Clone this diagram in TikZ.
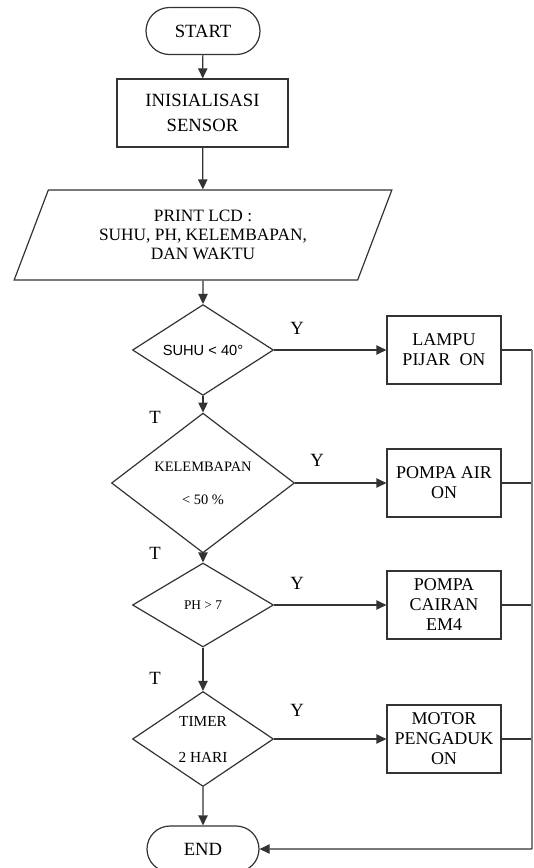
\documentclass[tikz,border=0pt]{standalone}
\usepackage{fontspec}
\setmainfont{Liberation Serif}
\setsansfont{Liberation Sans}
\usetikzlibrary{shapes.geometric,shapes.misc,arrows.meta}
\begin{document}
\begin{tikzpicture}[x=0.75pt,y=-0.75pt,line width=0.9pt,color=black!80,text=black,
  term/.style={rounded rectangle,draw,minimum width=85.5pt,minimum height=35.25pt,inner sep=0pt,font=\fontsize{14}{16}\selectfont},
  proc/.style={rectangle,draw,align=center,inner sep=0pt,minimum width=85.5pt,minimum height=51pt,font=\fontsize{13.5}{15}\selectfont},
  io/.style={trapezium,trapezium left angle=65.5,trapezium right angle=114.5,trapezium stretches=true,draw,minimum width=283.5pt,minimum height=67.5pt,align=center,inner sep=0pt,font=\fontsize{13}{14.5}\selectfont},
  dec/.style={diamond,draw,inner sep=0pt,align=center},
  flow/.style={-{Triangle[length=7.5pt,width=7pt]}},
  lab/.style={inner sep=0pt,font=\fontsize{14}{16}\selectfont}]
\useasboundingbox (0,0) rectangle (534,868);
\clip (0,0) rectangle (534,868);
% nodes
\node[term] (start) at (203,31) {START};
\node[proc,minimum width=128.25pt,font=\fontsize{14}{18.5}\selectfont] (init) at (202.5,113) {INISIALISASI\\SENSOR};
\node[io] (print) at (203,235) {PRINT LCD :\\SUHU, PH, KELEMBAPAN,\\DAN WAKTU};
\node[dec,minimum width=105.75pt,minimum height=63.75pt,font=\sffamily\fontsize{11}{13}\selectfont] (d1) at (203,350) {SUHU < 40°};
\node[dec,minimum width=137.25pt,minimum height=81.75pt,font=\fontsize{10.8}{24.75}\selectfont] (d2) at (203,483) {KELEMBAPAN\\< 50 \%};
\node[dec,minimum width=105.75pt,minimum height=63pt,font=\fontsize{10}{12}\selectfont] (d3) at (203,605) {PH > 7};
\node[dec,minimum width=105.75pt,minimum height=63pt,font=\fontsize{11.5}{27}\selectfont] (d4) at (203,739) {TIMER\\2 HARI};
\node[proc] (b1) at (444,350) {LAMPU\\PIJAR\ \ ON};
\node[proc] (b2) at (444,483) {POMPA AIR\\ON};
\node[proc] (b3) at (444,605) {POMPA\\CAIRAN\\EM4};
\node[proc] (b4) at (444,739) {MOTOR\\PENGADUK\\ON};
\node[term,minimum width=84pt,minimum height=34.5pt] (end) at (203,849) {END};
% labels
\node[lab] (y1) at (297,328) {Y};
\node[lab] (y2) at (317,460) {Y};
\node[lab] (y3) at (297,583) {Y};
\node[lab] (y4) at (297,710) {Y};
\node[lab] (t1) at (155,417) {T};
\node[lab] (t2) at (155,553) {T};
\node[lab] (t3) at (155,678) {T};
% main flow
\draw[flow] (start) -- (init);
\draw[flow] (init) -- (print);
\draw[flow] (print) -- (d1);
\draw[flow] (d1) -- (d2);
\draw[flow] (d2) -- (d3);
\draw[flow] (d3) -- (d4);
\draw[flow] (d4) -- (end);
% yes branches
\draw[flow] (d1) -- (b1);
\draw[flow] (d2) -- (b2);
\draw[flow] (d3) -- (b3);
\draw[flow] (d4) -- (b4);
% return line
\coordinate (r1) at (532,350);
\coordinate (r2) at (532,483);
\coordinate (r3) at (532,605);
\coordinate (r4) at (532,739);
\coordinate (re) at (532,849);
\draw (b1) -- (r1);
\draw (b2) -- (r2);
\draw (b3) -- (r3);
\draw (b4) -- (r4);
\draw[black!50] (r1) -- (re);
\draw[flow] (re) -- (end);
\end{tikzpicture}
\end{document}
